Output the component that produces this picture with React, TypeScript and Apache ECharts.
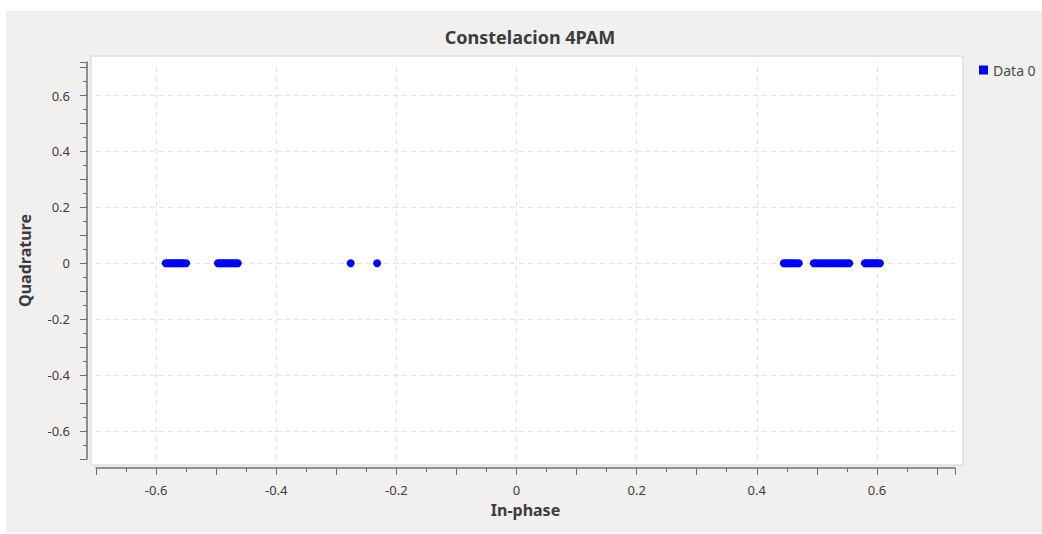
import React, { useEffect, useRef } from "react";
import * as echarts from "echarts";

const TITLE = "Constelacion 4PAM";
const SERIES_NAME = "Data 0";
const X_NAME = "In-phase";
const Y_NAME = "Quadrature";

// In-phase values of received symbols, quadrature is 0
const inPhase: number[] = [
  -0.584, -0.581, -0.578, -0.575, -0.572, -0.569, -0.566, -0.563, -0.56, -0.557, -0.554, -0.55,
  -0.497, -0.494, -0.491, -0.488, -0.485, -0.482, -0.479, -0.476, -0.473, -0.47, -0.467, -0.464,
  -0.276, -0.232,
  0.445, 0.448, 0.451, 0.454, 0.457, 0.46, 0.463, 0.467, 0.47,
  0.495, 0.498, 0.502, 0.506, 0.51, 0.514, 0.518, 0.522, 0.526, 0.53, 0.534, 0.538, 0.542, 0.546, 0.55, 0.554,
  0.58, 0.583, 0.586, 0.589, 0.592, 0.595, 0.598, 0.601, 0.605,
];
const quadrature: number[] = inPhase.map(() => 0);

const majorGrid: number[] = [-0.6, -0.4, -0.2, 0, 0.2, 0.4, 0.6];

export default function App() {
  const ref = useRef<HTMLDivElement>(null);
  useEffect(() => {
    document.body.style.margin = "0";
    const chart = echarts.init(ref.current!, null, { renderer: "svg" });
    const labelFmt = (v: number) => {
      const k = Math.round(v * 10);
      if (Math.abs(v * 10 - k) > 1e-6) return "";
      if (k % 2 !== 0) return "";
      const r = Math.round(v * 10) / 10;
      return r === 0 ? "0" : String(r);
    };
    const axisCommon = {
      axisLine: { show: true, onZero: false, lineStyle: { color: "#6e6e6e", width: 1.5 } },
      axisTick: { show: true, length: 7, lineStyle: { color: "#6e6e6e" } },
      minorTick: { show: true, splitNumber: 2, length: 4, lineStyle: { color: "#6e6e6e" } },
      splitLine: { show: false },
      nameTextStyle: { color: "#3c3c3c", fontSize: 16, fontWeight: "bold", fontFamily: "Noto Sans" },
    };
    chart.setOption({
      animation: false,
      backgroundColor: "#ffffff",
      title: {
        text: TITLE,
        left: 525,
        textAlign: "center",
        top: 23,
        textStyle: { color: "#3c3c3c", fontSize: 18, fontWeight: "bold", fontFamily: "Noto Sans" },
      },
      legend: {
        show: true,
        left: 974,
        top: 58,
        icon: "rect",
        itemWidth: 9,
        itemHeight: 9,
        itemGap: 6,
        textStyle: { color: "#4a4a4a", fontSize: 14, fontFamily: "Noto Sans" },
        data: [SERIES_NAME],
      },
      graphic: [
        {
          type: "rect",
          z: -20,
          silent: true,
          shape: { x: 6, y: 11, width: 1036, height: 522 },
          style: { fill: "#f1f0ee" },
        },
        {
          type: "rect",
          z: -10,
          silent: true,
          shape: { x: 91, y: 56, width: 872, height: 409 },
          style: { fill: "#ffffff", stroke: "#d4d4d4", lineWidth: 1 },
        },
      ],
      grid: { left: 96, top: 62, width: 859, height: 397 },
      xAxis: {
        type: "value",
        min: -0.7,
        max: 0.73,
        interval: 0.1,
        offset: 9,
        name: X_NAME,
        nameLocation: "middle",
        nameGap: 34,
        axisLabel: { color: "#3c3c3c", fontSize: 13, fontFamily: "Noto Sans", margin: 15, formatter: labelFmt },
        ...axisCommon,
      },
      yAxis: {
        type: "value",
        min: -0.7,
        max: 0.72,
        interval: 0.1,
        offset: 9,
        name: Y_NAME,
        nameLocation: "middle",
        nameGap: 54,
        axisLabel: { color: "#3c3c3c", fontSize: 13, fontFamily: "Noto Sans", margin: 17, formatter: labelFmt },
        ...axisCommon,
      },
      series: [
        {
          name: SERIES_NAME,
          type: "scatter",
          symbol: "circle",
          symbolSize: 8,
          itemStyle: { color: "#0000ff", opacity: 1 },
          data: inPhase.map((x, i) => [x, quadrature[i]]),
          z: 5,
          markLine: {
            silent: true,
            symbol: "none",
            label: { show: false },
            lineStyle: { color: "#e0e0e0", type: [5, 4], width: 1 },
            data: [
              ...majorGrid.map((v) => ({ xAxis: v })),
              ...majorGrid.map((v) => ({ yAxis: v })),
            ],
            z: 1,
          },
        },
      ],
    });
    return () => chart.dispose();
  }, []);
  return <div ref={ref} style={{ width: 1042, height: 534 }} />;
}
